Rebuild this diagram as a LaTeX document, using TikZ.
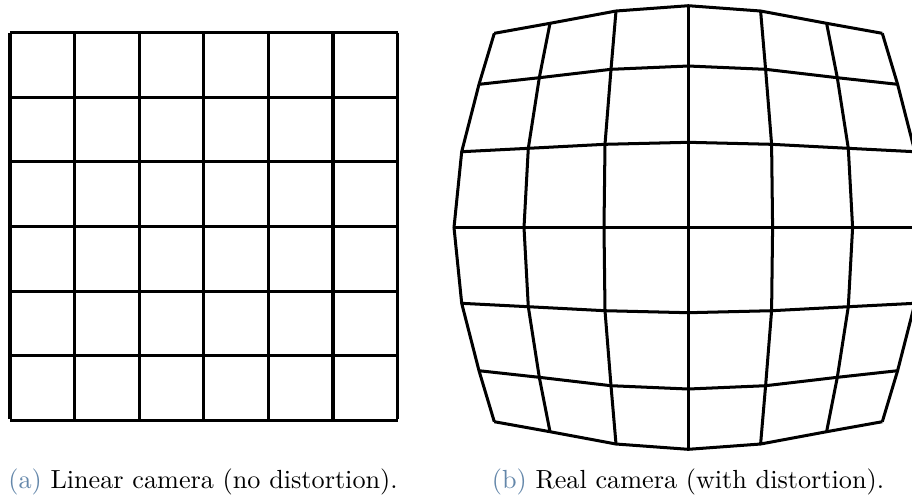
\documentclass[tikz,border=0pt]{standalone}
\usepackage{tikz}
\usetikzlibrary{calc}
\definecolor{sublabel}{RGB}{100,135,170}
\tikzset{gridline/.style={line width=1.15pt,line join=miter},
  caption/.style={anchor=base,inner sep=0pt,font=\normalsize}}

\begin{document}
\begin{tikzpicture}[x=0.3817pt,y=-0.3817pt]
\clip (0,0) rectangle (912,497);
% (a) linear camera: plain 6x6 grid
\foreach \k in {0,...,6}{
  \draw[gridline] ({10+64.6*\k},32.7) -- ({10+64.6*\k},419.3);
  \draw[gridline] (10,{32.7+64.6*\k}) -- (397.7,{32.7+64.6*\k});}
% (b) real camera: one quadrant of the barrel grid, mirrored
\foreach \u/\v/\dx/\dy in {0/0/0/0,1/0/84.3/0,2/0/164.3/0,3/0/234.3/0,
  0/1/0/85.2,1/1/83.3/83.2,2/1/160/79.2,3/1/226.6/75.8,
  0/2/0/161.5,1/2/77.3/158.2,2/2/149/149.8,3/2/209.3/143.2,
  0/3/0/221.8,1/3/72.3/216.5,2/3/138.3/204.2,3/3/194/194.2}{
  \foreach \sx in {-1,1}{
    \foreach \sy in {-1,1}{
      \pgfmathtruncatemacro\ii{3+\sx*\u}
      \pgfmathtruncatemacro\jj{3+\sy*\v}
      \coordinate (d\ii\jj) at ({688.3+\sx*\dx},{227.5-\sy*\dy});}}}
\foreach \j in {0,...,6}
  \draw[gridline] (d0\j) \foreach \i in {1,...,6}{ -- (d\i\j)};
\foreach \i in {0,...,6}
  \draw[gridline] (d\i0) \foreach \j in {1,...,6}{ -- (d\i\j)};
% captions
\node[caption] (capa) at (203,488) {\textcolor{sublabel}{(a)} Linear camera (no distortion).};
\node[caption] (capb) at (688,488) {\textcolor{sublabel}{(b)} Real camera (with distortion).};
\end{tikzpicture}
\end{document}
